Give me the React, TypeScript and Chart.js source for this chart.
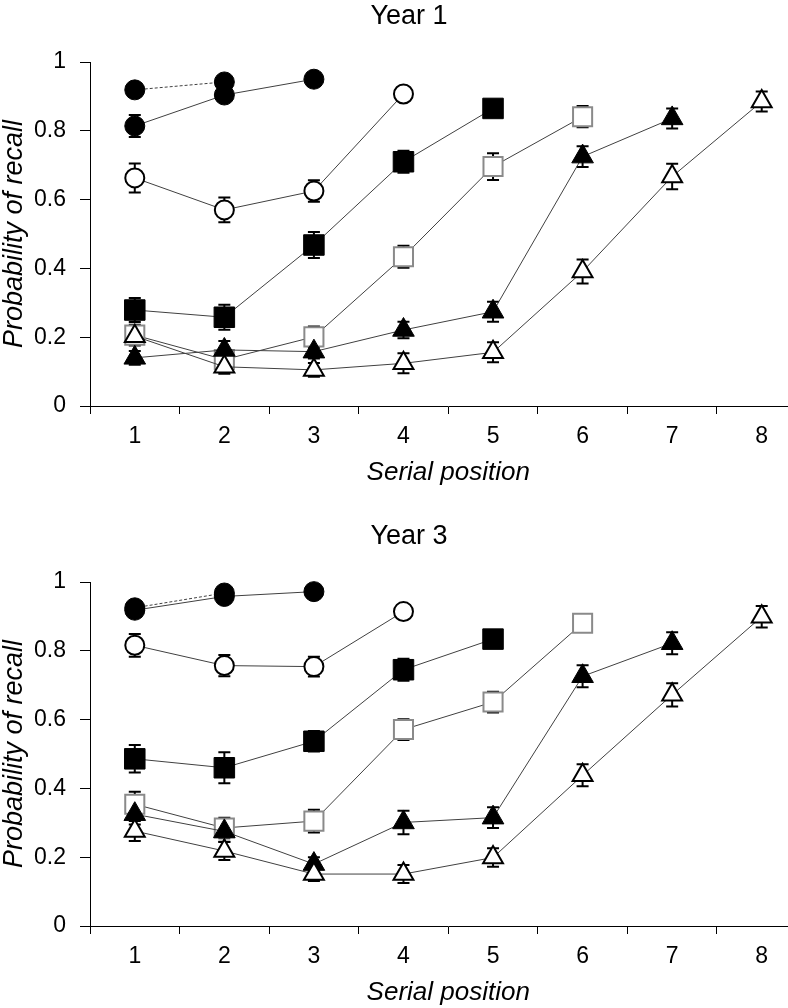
import React, { useEffect, useRef } from 'react';
import { Chart, registerables } from 'chart.js';

Chart.register(...registerables);

// ---------- data ----------
const serialPositions = [1, 2, 3, 4, 5, 6, 7, 8];
const xTickValues = [0.5, 1, 1.5, 2, 2.5, 3, 3.5, 4, 4.5, 5, 5.5, 6, 6.5, 7, 7.5, 8, 8.5];
const yTickValues = [0, 0.2, 0.4, 0.6, 0.8, 1];
const listLengths = [2, 3, 4, 5, 6, 7, 8];

// Year 1 means
const y1L2 = [0.919, 0.942];
const y1L3 = [0.814, 0.904, 0.95];
const y1L4 = [0.663, 0.57, 0.625, 0.907];
const y1L5 = [0.279, 0.258, 0.468, 0.71, 0.865];
const y1L6 = [0.206, 0.135, 0.201, 0.434, 0.696, 0.841];
const y1L7 = [0.14, 0.163, 0.158, 0.221, 0.274, 0.725, 0.836];
const y1L8 = [0.203, 0.114, 0.105, 0.124, 0.156, 0.391, 0.667, 0.885];
// Year 1 standard errors
const y1L2Err = [0, 0];
const y1L3Err = [0.032, 0.015, 0.015];
const y1L4Err = [0.042, 0.036, 0.031, 0.015];
const y1L5Err = [0.035, 0.036, 0.038, 0.032, 0.015];
const y1L6Err = [0.03, 0.02, 0.03, 0.032, 0.039, 0.031];
const y1L7Err = [0.02, 0.026, 0.02, 0.024, 0.029, 0.03, 0.029];
const y1L8Err = [0.02, 0.02, 0.02, 0.029, 0.029, 0.035, 0.037, 0.029];

// Year 3 means
const y3L2 = [0.925, 0.968];
const y3L3 = [0.918, 0.958, 0.972];
const y3L4 = [0.816, 0.757, 0.754, 0.914];
const y3L5 = [0.486, 0.46, 0.537, 0.745, 0.834];
const y3L6 = [0.354, 0.285, 0.305, 0.571, 0.651, 0.88];
const y3L7 = [0.325, 0.275, 0.18, 0.301, 0.315, 0.726, 0.822];
const y3L8 = [0.276, 0.218, 0.151, 0.151, 0.199, 0.438, 0.672, 0.899];
// Year 3 standard errors
const y3L2Err = [0, 0];
const y3L3Err = [0.015, 0.015, 0.015];
const y3L4Err = [0.033, 0.031, 0.029, 0.015];
const y3L5Err = [0.04, 0.045, 0.03, 0.032, 0.015];
const y3L6Err = [0.036, 0.03, 0.033, 0.03, 0.03, 0.015];
const y3L7Err = [0.03, 0.03, 0.02, 0.034, 0.03, 0.032, 0.032];
const y3L8Err = [0.029, 0.026, 0.02, 0.026, 0.027, 0.032, 0.034, 0.031];

const year1Means = [y1L2, y1L3, y1L4, y1L5, y1L6, y1L7, y1L8];
const year1Errs = [y1L2Err, y1L3Err, y1L4Err, y1L5Err, y1L6Err, y1L7Err, y1L8Err];
const year3Means = [y3L2, y3L3, y3L4, y3L5, y3L6, y3L7, y3L8];
const year3Errs = [y3L2Err, y3L3Err, y3L4Err, y3L5Err, y3L6Err, y3L7Err, y3L8Err];

// ---------- styles ----------
const FONT = '"Liberation Sans", Arial, sans-serif';
const VIEW_W = 788;
const W = 822; // canvas wider than the page: the right end of the axis is cropped, as in the original
const H = 488;

type MarkerStyle = {
  pointStyle: string;
  radius: number;
  fill: string;
  stroke: string;
  bw: number;
  dash: number[];
};

const markerStyles: MarkerStyle[] = [
  { pointStyle: 'circle', radius: 10, fill: '#000', stroke: '#000', bw: 1, dash: [3, 2] },
  { pointStyle: 'circle', radius: 10, fill: '#000', stroke: '#000', bw: 1, dash: [] },
  { pointStyle: 'circle', radius: 9.5, fill: '#fff', stroke: '#000', bw: 2, dash: [] },
  { pointStyle: 'rect', radius: 14.5, fill: '#000', stroke: '#000', bw: 1, dash: [] },
  { pointStyle: 'rect', radius: 13.5, fill: '#fff', stroke: '#8a8a8a', bw: 2, dash: [] },
  { pointStyle: 'triangle', radius: 12.5, fill: '#000', stroke: '#000', bw: 1, dash: [] },
  { pointStyle: 'triangle', radius: 11.5, fill: '#fff', stroke: '#000', bw: 2, dash: [] },
];

const errorBarPlugin = {
  id: 'errorBars',
  beforeDatasetsDraw(chart: any) {
    const { ctx } = chart;
    const x = chart.scales.x;
    const y = chart.scales.y;
    ctx.save();
    ctx.strokeStyle = '#000';
    ctx.lineWidth = 2;
    chart.data.datasets.forEach((ds: any) => {
      const errs: number[] = ds.errors || [];
      ds.data.forEach((p: any, i: number) => {
        const e = errs[i];
        if (!e) return;
        const px = x.getPixelForValue(p.x);
        const top = y.getPixelForValue(p.y + e);
        const bot = y.getPixelForValue(p.y - e);
        ctx.beginPath();
        ctx.moveTo(px, top);
        ctx.lineTo(px, bot);
        ctx.moveTo(px - 6, top);
        ctx.lineTo(px + 6, top);
        ctx.moveTo(px - 6, bot);
        ctx.lineTo(px + 6, bot);
        ctx.stroke();
      });
    });
    ctx.restore();
  },
};

function buildConfig(title: string, means: number[][], errs: number[][]): any {
  const datasets = means.map((vals, i) => {
    const st = markerStyles[i];
    return {
      label: 'List length ' + listLengths[i],
      data: vals.map((v, j) => ({ x: serialPositions[j], y: v })),
      errors: errs[i],
      showLine: true,
      borderColor: '#404040',
      borderWidth: 1,
      borderDash: st.dash,
      pointStyle: st.pointStyle,
      pointRadius: st.radius,
      pointBorderWidth: st.bw,
      pointBackgroundColor: st.fill,
      pointBorderColor: st.stroke,
      fill: false,
      tension: 0,
      clip: false,
      order: means.length - i,
    };
  });

  return {
    type: 'line',
    data: { datasets },
    plugins: [errorBarPlugin],
    options: {
      animation: false,
      responsive: false,
      devicePixelRatio: 1,
      events: [],
      layout: { padding: { left: 0, right: 4, top: 0, bottom: 0 } },
      plugins: {
        legend: { display: false },
        tooltip: { enabled: false },
        title: {
          display: true,
          text: title,
          color: '#000',
          font: { family: FONT, size: 27, weight: 'normal' },
          padding: { top: 0, bottom: 29.6 },
        },
      },
      scales: {
        x: {
          type: 'linear',
          min: 0.5,
          max: 8.5,
          afterBuildTicks: (s: any) => {
            s.ticks = xTickValues.map((v) => ({ value: v }));
          },
          afterFit: (s: any) => {
            s.height = 82;
          },
          ticks: {
            autoSkip: false,
            maxRotation: 0,
            color: '#000',
            font: { family: FONT, size: 23 },
            padding: 9,
            callback: (v: number) => (Number.isInteger(v) ? String(v) : ''),
          },
          grid: {
            display: true,
            drawOnChartArea: false,
            drawTicks: true,
            tickLength: 8,
            lineWidth: 1,
            color: (c: any) =>
              c.tick && Number.isInteger(c.tick.value) ? 'rgba(0,0,0,0)' : '#000',
          },
          border: { display: true, color: '#000', width: 1 },
          title: {
            display: true,
            text: 'Serial position',
            color: '#000',
            font: { family: FONT, size: 26, style: 'italic' },
            padding: { top: 0, bottom: 0 },
          },
        },
        y: {
          type: 'linear',
          min: 0,
          max: 1,
          afterBuildTicks: (s: any) => {
            s.ticks = yTickValues.map((v) => ({ value: v }));
          },
          afterFit: (s: any) => {
            s.width = 90;
          },
          ticks: {
            color: '#000',
            font: { family: FONT, size: 23 },
            padding: 14,
            callback: (v: number) => String(Number(v.toFixed(1))),
          },
          grid: {
            display: true,
            drawOnChartArea: false,
            drawTicks: true,
            tickLength: 10,
            color: '#000',
            lineWidth: 1,
          },
          border: { display: true, color: '#000', width: 1 },
          title: {
            display: true,
            text: 'Probability of recall',
            color: '#000',
            font: { family: FONT, size: 27, style: 'italic' },
            padding: { top: -2, bottom: 0 },
          },
        },
      },
    },
  };
}

function Panel({ top, title, means, errs }: { top: number; title: string; means: number[][]; errs: number[][] }) {
  const ref = useRef<HTMLCanvasElement>(null);
  useEffect(() => {
    if (!ref.current) return;
    const chart = new Chart(ref.current, buildConfig(title, means, errs));
    return () => chart.destroy();
  }, [title, means, errs]);
  return (
    <canvas
      ref={ref}
      width={W}
      height={H}
      style={{ position: 'absolute', left: 0, top, width: W, height: H }}
    />
  );
}

export default function App() {
  return (
    <div
      style={{
        position: 'absolute',
        left: 0,
        top: 0,
        width: VIEW_W,
        height: 1008,
        overflow: 'hidden',
        background: '#fff',
      }}
    >
      <Panel top={0} title="Year 1" means={year1Means} errs={year1Errs} />
      <Panel top={520} title="Year 3" means={year3Means} errs={year3Errs} />
    </div>
  );
}
